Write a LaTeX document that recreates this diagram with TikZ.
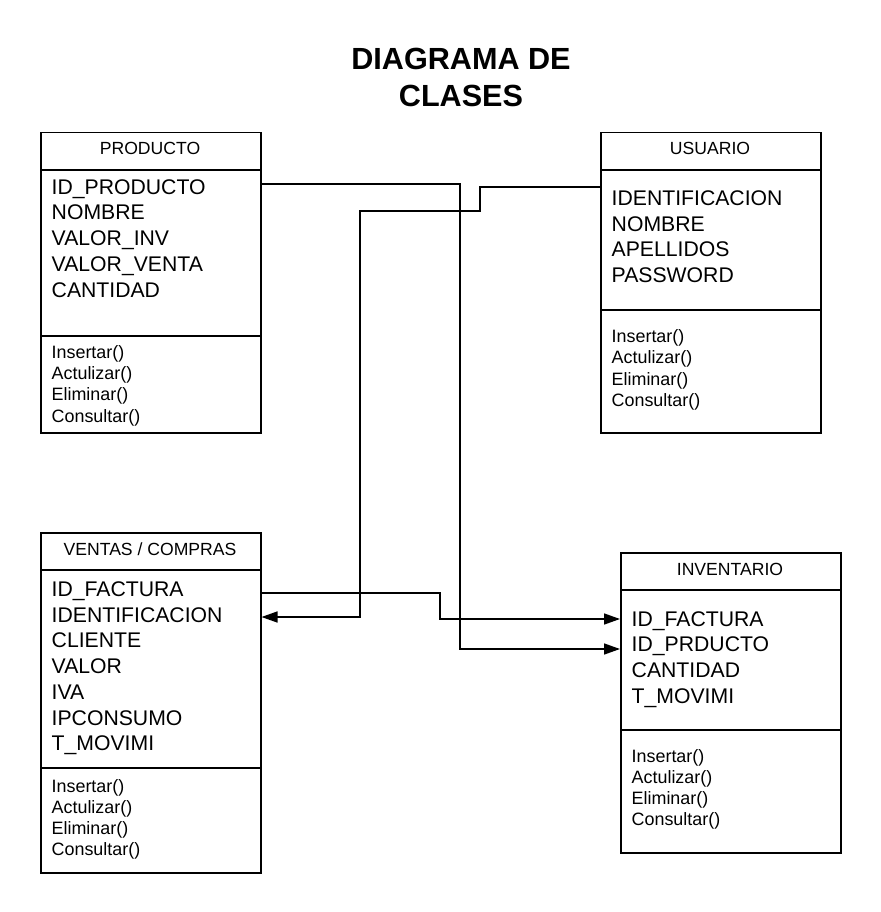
\documentclass[tikz,border=0pt]{standalone}
\usepackage{fontspec}
\setmainfont{Liberation Sans}
\usetikzlibrary{arrows.meta}
\begin{document}
\begin{tikzpicture}[x=1pt,y=-1pt,
  classbox/.style={draw, line width=1.5pt, inner sep=0pt, anchor=north west, minimum width=220pt, minimum height=#1},
  sep/.style={line width=1.5pt},
  hdr/.style={anchor=base, inner sep=0pt, font=\fontsize{17.6}{20}\selectfont},
  attr/.style={anchor=base west, inner sep=0pt, font=\fontsize{21.2}{25}\selectfont},
  meth/.style={anchor=base west, inner sep=0pt, font=\fontsize{17.9}{21}\selectfont},
  conn/.style={line width=1.5pt, -{Triangle[length=16pt,width=11pt]}},
  ttl/.style={anchor=base, inner sep=0pt, font=\bfseries\fontsize{30.6}{37}\selectfont}]
\useasboundingbox (0,0) rectangle (880,912);
\fill[white] (0,0) rectangle (880,912);

% title
\node[ttl] (title1) at (461,69.3) {DIAGRAMA DE};
\node[ttl] (title2) at (461,106.7) {CLASES};

% boxes
\node[classbox=300pt] (prod) at (40,132) {};
\node[classbox=300pt] (usr) at (600,132) {};
\node[classbox=340pt] (vent) at (40,532) {};
\node[classbox=300pt] (inv) at (620,552) {};

% dividers
\draw[sep] ([yshift=-38pt]prod.north west) -- ([yshift=-38pt]prod.north east);
\draw[sep] ([yshift=-204pt]prod.north west) -- ([yshift=-204pt]prod.north east);
\draw[sep] ([yshift=-38pt]usr.north west) -- ([yshift=-38pt]usr.north east);
\draw[sep] ([yshift=-178pt]usr.north west) -- ([yshift=-178pt]usr.north east);
\draw[sep] ([yshift=-38pt]vent.north west) -- ([yshift=-38pt]vent.north east);
\draw[sep] ([yshift=-236pt]vent.north west) -- ([yshift=-236pt]vent.north east);
\draw[sep] ([yshift=-38pt]inv.north west) -- ([yshift=-38pt]inv.north east);
\draw[sep] ([yshift=-178pt]inv.north west) -- ([yshift=-178pt]inv.north east);

% headers
\node[hdr] (prodh) at (150,155) {PRODUCTO};
\node[hdr] (usrh) at (710,155) {USUARIO};
\node[hdr] (venth) at (150,555) {VENTAS / COMPRAS};
\node[hdr] (invh) at (730,575) {INVENTARIO};

% attributes
\foreach \t [count=\i from 0] in {ID\_PRODUCTO,NOMBRE,VALOR\_INV,VALOR\_VENTA,CANTIDAD}
  \node[attr] (pa\i) at (51.5,{194+25.8*\i}) {\t};
\foreach \t [count=\i from 0] in {IDENTIFICACION,NOMBRE,APELLIDOS,PASSWORD}
  \node[attr] (ua\i) at (611.5,{205.5+25.7*\i}) {\t};
\foreach \t [count=\i from 0] in {ID\_FACTURA,IDENTIFICACION,CLIENTE,VALOR,IVA,IPCONSUMO,T\_MOVIMI}
  \node[attr] (va\i) at (51.5,{596.5+25.7*\i}) {\t};
\foreach \t [count=\i from 0] in {ID\_FACTURA,ID\_PRDUCTO,CANTIDAD,T\_MOVIMI}
  \node[attr] (ia\i) at (631.5,{626+25.7*\i}) {\t};

% methods
\foreach \t [count=\i from 0] in {Insertar(),Actulizar(),Eliminar(),Consultar()} {
  \node[meth] (pm\i) at (51.5,{358.5+21.2*\i}) {\t};
  \node[meth] (um\i) at (611.5,{342.5+21.3*\i}) {\t};
  \node[meth] (vm\i) at (51.5,{792+21.3*\i}) {\t};
  \node[meth] (im\i) at (631.5,{762+21.3*\i}) {\t};
}

% connectors
\draw[conn] ([yshift=-52pt]prod.north east) -- (460,184) -- (460,649) -- ([yshift=-97pt]inv.north west);
\draw[conn] ([yshift=-55pt]usr.north west) -- (480,187) -- (480,211) -- (360,211) -- (360,617) -- ([yshift=-85pt]vent.north east);
\draw[conn] ([yshift=-61pt]vent.north east) -- (440,593) -- (440,619) -- ([yshift=-67pt]inv.north west);
\end{tikzpicture}
\end{document}
